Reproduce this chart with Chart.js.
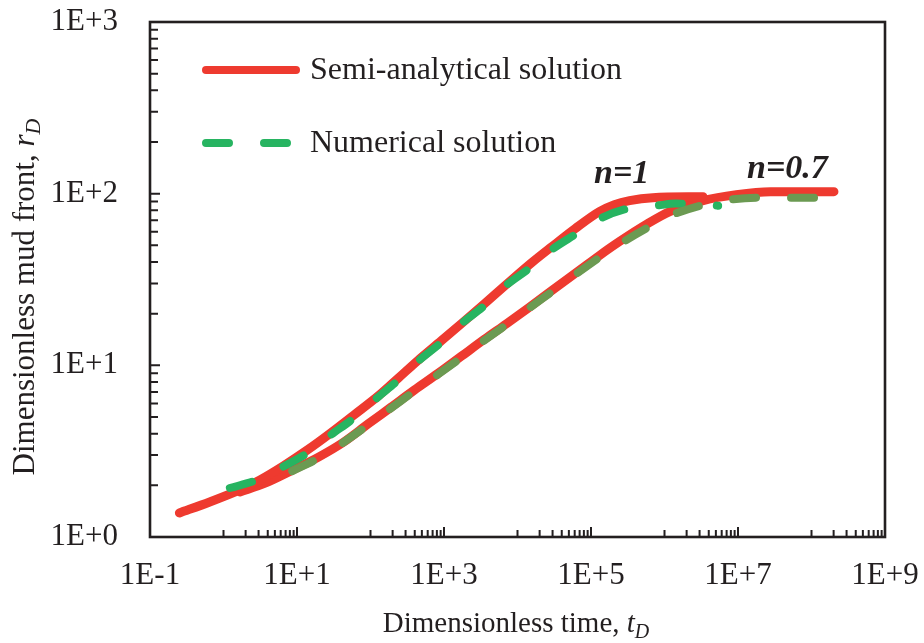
<!DOCTYPE html>
<html><head><meta charset="utf-8">
<script src="https://cdn.jsdelivr.net/npm/chart.js@4.4.1/dist/chart.umd.min.js"></script>
<style>html,body{margin:0;padding:0;background:#fff;}canvas{display:block;}</style>
</head><body>
<canvas id="c" width="924" height="643"></canvas>
<script>
// ---------- data ----------
const seriesNames = ['Semi-analytical solution', 'Numerical solution'];
const curveLabels = ['n=1', 'n=0.7'];
const xTickValues = [0.1, 10, 1000, 1e5, 1e7, 1e9];
const xTickLabels = ['1E-1', '1E+1', '1E+3', '1E+5', '1E+7', '1E+9'];
const yTickValues = [1, 10, 100, 1000];
const yTickLabels = ['1E+0', '1E+1', '1E+2', '1E+3'];

// semi-analytical, n = 1
const semiN1T = [0.251, 0.649, 1.67, 3.14, 6.49, 13.8, 28.6, 59.0, 126, 237, 444, 918, 1726, 3565, 6700, 15700, 29500, 60900, 130000, 208000, 335000, 692000, 3.35e6];
const semiN1R = [1.38, 1.60, 1.88, 2.15, 2.59, 3.21, 4.03, 5.12, 6.60, 8.40, 10.7, 13.9, 17.5, 22.9, 29.0, 39.7, 49.2, 62.6, 78.6, 86.3, 91.1, 94.8, 96.1];
// semi-analytical, n = 0.7
const semiN07T = [1.67, 3.68, 8.62, 19.6, 43.1, 91.8, 190, 392, 835, 1726, 3565, 7130, 14290, 29500, 69200, 130000, 244000, 590000, 1.18e6, 3.35e6, 9.48e6, 2.77e7, 2.02e8];
const semiN07R = [1.83, 2.06, 2.45, 2.92, 3.57, 4.54, 5.70, 7.16, 8.99, 11.3, 14.2, 17.5, 21.7, 27.3, 35.7, 43.6, 52.6, 66.9, 78.6, 91.1, 98.7, 102.7, 102.7];
// numerical, n = 1
const numN1T = [1.22, 2.86, 6.29, 13.8, 28.6, 59.0, 126, 237, 444, 918, 1726, 3565, 6700, 14290, 29500, 60900, 134000, 314000, 760000, 1.43e6, 5.37e6];
const numN1R = [1.93, 2.15, 2.55, 3.08, 3.92, 4.92, 6.52, 8.18, 10.55, 13.6, 17.5, 22.3, 28.8, 36.6, 47.3, 57.8, 71.6, 81.8, 85.1, 87.5, 85.1];
// numerical, n = 0.7
const numN07T = [8.62, 19.6, 39.2, 91.8, 190, 392, 835, 1726, 3565, 7130, 14290, 29500, 59000, 130000, 252000, 590000, 1.30e6, 3.05e6, 7.85e6, 1.90e7, 4.59e7, 1.15e8];
const numN07R = [2.42, 2.88, 3.47, 4.48, 5.62, 7.06, 8.87, 11.1, 14.0, 17.3, 21.5, 26.9, 33.4, 42.5, 51.2, 63.4, 75.5, 85.1, 92.3, 94.8, 94.8, 94.8];

// ---------- styling ----------
const SERIF = "'Liberation Serif','Times New Roman',Times,serif";
const RED = '#ee3a2f', GREEN = '#27b461', OLIVE = '#6b9a52', INK = '#231f20';
const DASH = [23, 35];
const pts = (t, r) => t.map((v, i) => ({x: v, y: r[i]}));

function lineDs(label, t, r, color, dashed, width, order) {
  return {
    label, data: pts(t, r), borderColor: color, backgroundColor: color,
    borderWidth: width, borderDash: dashed ? DASH : [], borderCapStyle: 'round',
    borderJoinStyle: 'round', pointRadius: 0, pointHoverRadius: 0,
    cubicInterpolationMode: 'monotone', fill: false, order
  };
}

function drawRich(ctx, parts, x, y) {
  let cx = x;
  for (const p of parts) {
    ctx.font = p.font;
    ctx.fillText(p.t, cx, y + (p.dy || 0));
    cx += ctx.measureText(p.t).width;
  }
}
function richWidth(ctx, parts) {
  let w = 0;
  for (const p of parts) { ctx.font = p.font; w += ctx.measureText(p.t).width; }
  return w;
}

const decorPlugin = {
  id: 'decor',
  afterDraw(chart) {
    const {ctx, chartArea: a, scales: {x, y}} = chart;
    ctx.save();
    // frame
    ctx.strokeStyle = INK; ctx.lineWidth = 2.6; ctx.lineCap = 'butt'; ctx.setLineDash([]);
    ctx.strokeRect(a.left, a.top, a.right - a.left, a.bottom - a.top);
    // ticks (inside)
    ctx.lineWidth = 2;
    ctx.beginPath();
    for (let k = -1; k <= 9; k++) {
      const p = x.getPixelForValue(Math.pow(10, k));
      if (k % 2 !== 0 && k > -1 && k < 9) { ctx.moveTo(p, a.bottom); ctx.lineTo(p, a.bottom - 10); }
      if (k % 2 === 0 && k < 9) {
        for (let m = 1; m <= 9; m++) {
          const q = x.getPixelForValue(m * Math.pow(10, k));
          ctx.moveTo(q, a.bottom); ctx.lineTo(q, a.bottom - 7);
        }
      }
    }
    for (let k = 0; k <= 2; k++) {
      for (let m = 2; m <= 10; m++) {
        const q = y.getPixelForValue(m * Math.pow(10, k));
        ctx.moveTo(a.left, q); ctx.lineTo(a.left + (m === 10 ? 10 : 8), q);
      }
    }
    ctx.stroke();

    ctx.fillStyle = INK;
    ctx.textBaseline = 'alphabetic';
    ctx.textAlign = 'left';
    // legend
    const ds = chart.data.datasets;
    const legendItems = [{ds: ds[0], y: 70, text: seriesNames[0]}, {ds: ds[2], y: 143, text: seriesNames[1]}];
    for (const it of legendItems) {
      ctx.beginPath();
      ctx.strokeStyle = it.ds.borderColor;
      ctx.lineWidth = 8; ctx.lineCap = 'round';
      ctx.setLineDash(it.ds.borderDash || []);
      ctx.moveTo(206, it.y); ctx.lineTo(296, it.y);
      ctx.stroke();
      ctx.setLineDash([]);
      ctx.font = '32px ' + SERIF;
      ctx.fillText(it.text, 310, it.y + 9);
    }
    // curve annotations
    ctx.font = 'italic bold 34px ' + SERIF;
    ctx.fillText(curveLabels[0], 594, 183);
    ctx.fillText(curveLabels[1], 747, 178);

    // x title
    const fN = '29px ' + SERIF, fI = 'italic 29px ' + SERIF, fS = 'italic 20px ' + SERIF;
    const xParts = [{t: 'Dimensionless time, ', font: fN}, {t: 't', font: fI}, {t: 'D', font: fS, dy: 6}];
    const xw = richWidth(ctx, xParts);
    drawRich(ctx, xParts, 516 - xw / 2, 632);
    // y title
    const gN = '31px ' + SERIF, gI = 'italic 31px ' + SERIF, gS = 'italic 22px ' + SERIF;
    const yParts = [{t: 'Dimensionless mud front, ', font: gN}, {t: 'r', font: gI}, {t: 'D', font: gS, dy: 6}];
    const yw = richWidth(ctx, yParts);
    ctx.save();
    ctx.translate(34, 297);
    ctx.rotate(-Math.PI / 2);
    drawRich(ctx, yParts, -yw / 2, 0);
    ctx.restore();
    ctx.restore();
  }
};

new Chart(document.getElementById('c'), {
  type: 'line',
  data: {
    datasets: [
      lineDs(seriesNames[0] + ' ' + curveLabels[0], semiN1T, semiN1R, RED, false, 9, 2),
      lineDs(seriesNames[0] + ' ' + curveLabels[1], semiN07T, semiN07R, RED, false, 9, 2),
      lineDs(seriesNames[1] + ' ' + curveLabels[0], numN1T, numN1R, GREEN, true, 8, 1),
      lineDs(seriesNames[1] + ' ' + curveLabels[1], numN07T, numN07R, OLIVE, true, 8, 0)
    ]
  },
  options: {
    responsive: false,
    devicePixelRatio: 1,
    animation: false,
    layout: {padding: {left: 0, top: 22, right: 39, bottom: 0}},
    plugins: {legend: {display: false}, tooltip: {enabled: false}},
    scales: {
      x: {
        type: 'logarithmic', min: 0.1, max: 1e9, position: 'bottom',
        grid: {display: false, drawTicks: false}, border: {display: false},
        afterBuildTicks: s => { s.ticks = xTickValues.map(v => ({value: v})); },
        afterFit: s => { s.height = 106; s.paddingLeft = 0; s.paddingRight = 0; },
        ticks: {
          autoSkip: false, maxRotation: 0, padding: 20, color: INK,
          font: {family: SERIF, size: 31},
          callback: (v, i) => xTickLabels[i]
        }
      },
      y: {
        type: 'logarithmic', min: 1, max: 1000,
        grid: {display: false, drawTicks: false}, border: {display: false},
        afterBuildTicks: s => { s.ticks = yTickValues.map(v => ({value: v})); },
        afterFit: s => { s.width = 150; s.paddingTop = 0; s.paddingBottom = 0; },
        ticks: {
          autoSkip: false, padding: 32, color: INK,
          font: {family: SERIF, size: 31},
          callback: (v, i) => yTickLabels[i]
        }
      }
    }
  },
  plugins: [decorPlugin]
});
</script>
</body></html>
